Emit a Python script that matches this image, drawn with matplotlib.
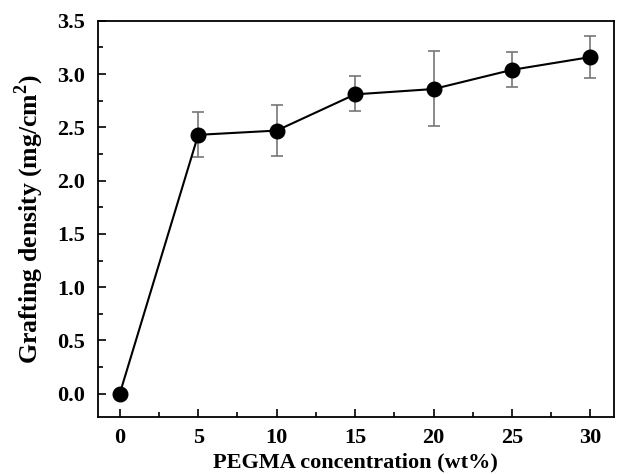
import matplotlib
matplotlib.use("Agg")
import matplotlib.pyplot as plt
from matplotlib.ticker import MultipleLocator, FormatStrFormatter

plt.rcParams.update({
    "font.family": ["Liberation Serif", "DejaVu Serif"],
    "font.weight": "bold",
    "mathtext.fontset": "custom",
    "mathtext.rm": "Liberation Serif:bold",
})

conc = [0, 5, 10, 15, 20, 25, 30]
density = [0.0, 2.43, 2.47, 2.81, 2.86, 3.04, 3.16]
err_low = [0.0, 0.21, 0.24, 0.16, 0.35, 0.16, 0.20]
err_high = [0.0, 0.21, 0.24, 0.17, 0.36, 0.17, 0.20]

fig = plt.figure(figsize=(6.31, 4.74), dpi=100)
ax = fig.add_axes([0.155, 0.120, 0.818, 0.836])

ax.errorbar(conc, density, yerr=[err_low, err_high], fmt="none",
            ecolor="#777777", elinewidth=1.2, capsize=4, capthick=1.2, zorder=2)
ax.plot(conc, density, "-", color="black", lw=1.5, zorder=3)
ax.plot(conc, density, "o", color="black", ms=10.5, zorder=4)

ax.set_xlim(-1.4, 31.5)
ax.set_ylim(-0.22, 3.5)
ax.xaxis.set_major_locator(MultipleLocator(5))
ax.xaxis.set_minor_locator(MultipleLocator(2.5))
ax.yaxis.set_major_locator(MultipleLocator(0.5))
ax.yaxis.set_minor_locator(MultipleLocator(0.25))
ax.yaxis.set_major_formatter(FormatStrFormatter("%.1f"))
ax.tick_params(which="both", direction="in", top=False, right=False, width=1.2)
ax.tick_params(which="major", length=6, labelsize=16)
ax.tick_params(axis="x", which="major", pad=8)
ax.tick_params(axis="y", which="major", pad=9)
ax.tick_params(which="minor", length=3.5)
for s in ax.spines.values():
    s.set_linewidth(1.3)

ax.set_xlabel("PEGMA concentration (wt%)", fontsize=16, fontweight="bold", labelpad=3)
ax.set_ylabel("Grafting density (mg/cm$^{2}$)", fontsize=18.5, fontweight="bold", labelpad=8)

fig.savefig("out.png", dpi=100)
